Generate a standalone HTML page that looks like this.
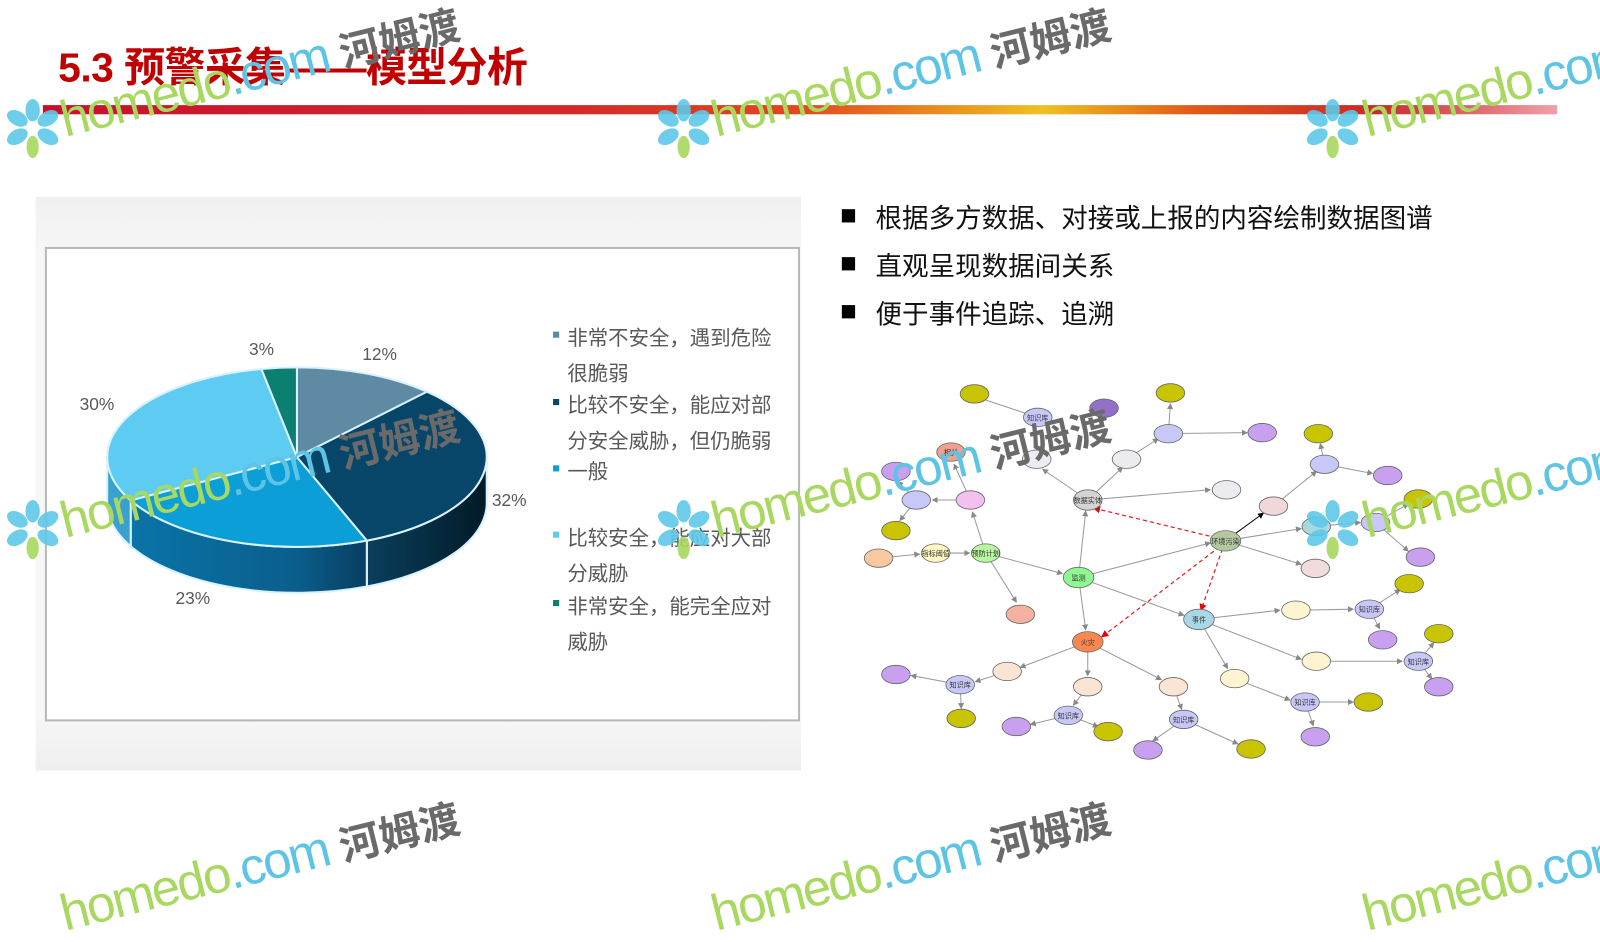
<!DOCTYPE html>
<html><head><meta charset="utf-8"><style>
html,body{margin:0;padding:0;background:#fff;overflow:hidden;width:1600px;height:900px}
#c{position:absolute;left:0;top:0;width:1568px;height:882px;transform:scale(1.0204);transform-origin:0 0;font-family:"Liberation Sans","Noto Sans CJK SC",sans-serif}
.abs{position:absolute}
.title{left:57px;top:34px;font-size:40px;font-weight:bold;color:#c00000;white-space:nowrap;letter-spacing:-0.5px}
.bar{left:42px;top:103px;width:1484px;height:9px;background:linear-gradient(90deg,#c8102e 0%,#d42a2a 35%,#e04820 50%,#f0c020 66%,#e05a18 76%,#c8282a 88%,#f0a0a8 100%)}
.leg{position:absolute;left:556px;font-size:20px;color:#595959;white-space:nowrap}
.sq{position:absolute;left:542px;width:6px;height:6px}
.bul{position:absolute;left:858px;font-size:26px;color:#111;white-space:nowrap}
.bsq{position:absolute;left:825px;width:13px;height:13px;background:#000}
.wm{position:absolute;font-size:50px;white-space:nowrap;transform:rotate(-14deg);transform-origin:0 100%;line-height:1;letter-spacing:-2px}
.wm .g{color:#a8d860}.wm .b{color:#5ec4e6}.wm .k{color:#6a6a6a;font-weight:bold;font-size:40px;letter-spacing:0}
</style></head><body><div id="c">
<div class="abs title">5.3 预警采集——模型分析</div>
<div class="abs bar"></div>

<div class="abs" style="left:35px;top:193px;width:750px;height:562px;background:linear-gradient(#f0f0f0,#f7f7f7 10%,#f7f7f7 90%,#eeeeee)"></div>
<div class="abs" style="left:44px;top:242px;width:736px;height:461px;background:#fff;border:2px solid #b8b8b8"></div>
<svg class="abs" style="left:0;top:0" width="800" height="800">
<defs>
<linearGradient id="gs1" x1="0" x2="1"><stop offset="0" stop-color="#0a3f5c"/><stop offset="1" stop-color="#021a28"/></linearGradient>
<linearGradient id="gs2" x1="0" x2="1"><stop offset="0" stop-color="#0a74a8"/><stop offset=".7" stop-color="#0a5e8c"/><stop offset="1" stop-color="#083e60"/></linearGradient>
</defs>
<g stroke="#d8f2ff" stroke-width="2">
<path d="M477,448 A186 88 0 0 1 359.5,529.8 L359.5,574.8 A186 88 0 0 0 477,493 Z" fill="url(#gs1)"/>
<path d="M359.5,529.8 A186 88 0 0 1 128.1,490.4 L128.1,535.4 A186 88 0 0 0 359.5,574.8 Z" fill="url(#gs2)"/>
<path d="M128.1,490.4 A186 88 0 0 1 105,448 L105,493 A186 88 0 0 0 128.1,535.4 Z" fill="#3aa0d0"/>
<path d="M291,448 L291,360 A186 88 0 0 1 418.4,383.9 Z" fill="#5e8aa4"/>
<path d="M291,448 L418.4,383.9 A186 88 0 0 1 359.5,529.8 Z" fill="#074668"/>
<path d="M291,448 L359.5,529.8 A186 88 0 0 1 128.1,490.4 Z" fill="#0c9ed6"/>
<path d="M291,448 L128.1,490.4 A186 88 0 0 1 256.2,361.6 Z" fill="#5ecbf2"/>
<path d="M291,448 L256.2,361.6 A186 88 0 0 1 291,360 Z" fill="#0a7f72"/>
</g>
<g font-size="17" fill="#595959" font-family="Liberation Sans,sans-serif">
<text x="244" y="348">3%</text><text x="355" y="353">12%</text><text x="78" y="402">30%</text>
<text x="482" y="496">32%</text><text x="172" y="592">23%</text></g>
</svg>
<div class="sq" style="top:325px;background:#5e8aa4"></div><div class="leg" style="top:315px">非常不安全，遇到危险</div>
<div class="leg" style="top:350px">很脆弱</div>
<div class="sq" style="top:391px;background:#074668"></div><div class="leg" style="top:381px">比较不安全，能应对部</div>
<div class="leg" style="top:416px">分安全威胁，但仍脆弱</div>
<div class="sq" style="top:456px;background:#0c9ed6"></div><div class="leg" style="top:446px">一般</div>
<div class="sq" style="top:521px;background:#5ecbf2"></div><div class="leg" style="top:511px">比较安全，能应对大部</div>
<div class="leg" style="top:546px">分威胁</div>
<div class="sq" style="top:588px;background:#0a7f72"></div><div class="leg" style="top:578px">非常安全，能完全应对</div>
<div class="leg" style="top:613px">威胁</div>

<div class="bsq" style="top:205px"></div><div class="bul" style="top:194px">根据多方数据、对接或上报的内容绘制数据图谱</div>
<div class="bsq" style="top:252px"></div><div class="bul" style="top:241px">直观呈现数据间关系</div>
<div class="bsq" style="top:299px"></div><div class="bul" style="top:288px">便于事件追踪、追溯</div>

<svg class="abs" style="left:0;top:0" width="1568" height="882">
<defs><marker id="ar" markerWidth="6" markerHeight="6" refX="5" refY="3" orient="auto"><path d="M0,0 L6,3 L0,6 Z" fill="#888"/></marker>
<marker id="ar2" markerWidth="6" markerHeight="6" refX="5" refY="3" orient="auto"><path d="M0,0 L6,3 L0,6 Z" fill="#e00"/></marker>
<marker id="ar3" markerWidth="6" markerHeight="6" refX="5" refY="3" orient="auto"><path d="M0,0 L6,3 L0,6 Z" fill="#000"/></marker></defs>
<g stroke="#9a9a9a" stroke-width="1" marker-end="url(#ar)">
<line x1="1017" y1="409" x2="960" y2="390"/><line x1="1145" y1="425" x2="1147" y2="396"/><line x1="1145" y1="425" x2="1222" y2="424"/>
<line x1="1066" y1="490" x2="1100" y2="458"/><line x1="1066" y1="490" x2="1022" y2="460"/><line x1="1066" y1="490" x2="1186" y2="480"/>
<line x1="1104" y1="450" x2="1135" y2="430"/>
<line x1="1298" y1="455" x2="1294" y2="435"/><line x1="1298" y1="455" x2="1345" y2="464"/><line x1="1248" y1="496" x2="1290" y2="462"/>
<line x1="1201" y1="530" x2="1275" y2="518"/><line x1="1201" y1="530" x2="1275" y2="553"/>
<line x1="1057" y1="566" x2="1186" y2="532"/><line x1="1057" y1="566" x2="1064" y2="501"/><line x1="1057" y1="566" x2="1064" y2="617"/><line x1="1057" y1="566" x2="1160" y2="603"/>
<line x1="966" y1="542" x2="1041" y2="562"/><line x1="917" y1="542" x2="950" y2="542"/><line x1="861" y1="547" x2="901" y2="543"/>
<line x1="966" y1="542" x2="953" y2="502"/><line x1="966" y1="542" x2="996" y2="590"/><line x1="951" y1="490" x2="914" y2="490"/>
<line x1="898" y1="490" x2="880" y2="472"/><line x1="898" y1="490" x2="882" y2="510"/><line x1="951" y1="490" x2="935" y2="455"/>
<line x1="1290" y1="516" x2="1333" y2="512"/><line x1="1348" y1="512" x2="1380" y2="494"/><line x1="1348" y1="512" x2="1380" y2="540"/>
<line x1="1175" y1="607" x2="1254" y2="598"/><line x1="1270" y1="598" x2="1326" y2="597"/><line x1="1342" y1="597" x2="1372" y2="578"/><line x1="1342" y1="597" x2="1352" y2="616"/>
<line x1="1175" y1="607" x2="1275" y2="646"/><line x1="1290" y1="648" x2="1374" y2="648"/><line x1="1390" y1="648" x2="1405" y2="630"/><line x1="1390" y1="648" x2="1403" y2="665"/>
<line x1="1175" y1="607" x2="1203" y2="655"/><line x1="1210" y1="665" x2="1264" y2="686"/><line x1="1279" y1="688" x2="1326" y2="688"/><line x1="1279" y1="688" x2="1287" y2="711"/>
<line x1="1066" y1="629" x2="1000" y2="654"/><line x1="987" y1="658" x2="956" y2="668"/><line x1="941" y1="671" x2="893" y2="662"/><line x1="941" y1="671" x2="942" y2="694"/>
<line x1="1066" y1="629" x2="1066" y2="662"/><line x1="1066" y1="673" x2="1052" y2="691"/><line x1="1047" y1="701" x2="1010" y2="710"/><line x1="1047" y1="701" x2="1076" y2="712"/>
<line x1="1066" y1="629" x2="1138" y2="666"/><line x1="1150" y1="673" x2="1158" y2="695"/><line x1="1160" y1="705" x2="1130" y2="726"/><line x1="1160" y1="705" x2="1213" y2="729"/>
</g>
<line x1="1201" y1="530" x2="1238" y2="503" stroke="#000" marker-end="url(#ar3)"/>
<g stroke="#e02020" stroke-width="1.2" stroke-dasharray="4,3" fill="none" marker-end="url(#ar2)">
<line x1="1192" y1="527" x2="1072" y2="498"/><line x1="1195" y1="536" x2="1080" y2="624"/><line x1="1198" y1="538" x2="1177" y2="598"/>
</g>
<g stroke="#666" stroke-width="0.8">
<ellipse cx="955" cy="386" rx="14" ry="9" fill="#c8c400"/><ellipse cx="1017" cy="409" rx="14" ry="9" fill="#c8c8f8"/><ellipse cx="1082" cy="400" rx="14" ry="9" fill="#9070c8"/>
<ellipse cx="1147" cy="385" rx="14" ry="9" fill="#c8c400"/><ellipse cx="1145" cy="425" rx="14" ry="9" fill="#c8c8f8"/><ellipse cx="1237" cy="424" rx="14" ry="9" fill="#c9a0f0"/>
<ellipse cx="1292" cy="425" rx="14" ry="9" fill="#c8c400"/><ellipse cx="1298" cy="455" rx="14" ry="9" fill="#c8c8f8"/><ellipse cx="1360" cy="466" rx="14" ry="9" fill="#c9a0f0"/>
<ellipse cx="932" cy="443" rx="14" ry="9" fill="#f0a090"/><ellipse cx="878" cy="462" rx="14" ry="9" fill="#c9a0f0"/><ellipse cx="1016" cy="450" rx="14" ry="9" fill="#ececf4"/>
<ellipse cx="1104" cy="450" rx="14" ry="9" fill="#ececf0"/><ellipse cx="898" cy="490" rx="14" ry="9" fill="#c8c8f8"/><ellipse cx="951" cy="490" rx="14" ry="9" fill="#f4c0f0"/>
<ellipse cx="878" cy="520" rx="14" ry="9" fill="#c8c400"/><ellipse cx="1066" cy="490" rx="14" ry="10" fill="#d4d4d4"/><ellipse cx="1202" cy="480" rx="14" ry="9" fill="#ececf0"/>
<ellipse cx="1248" cy="496" rx="14" ry="9" fill="#f0d8d8"/><ellipse cx="1390" cy="489" rx="14" ry="9" fill="#c8c400"/><ellipse cx="1290" cy="516" rx="14" ry="9" fill="#a8d8e0"/>
<ellipse cx="1348" cy="512" rx="14" ry="9" fill="#c8c8f8"/><ellipse cx="1201" cy="530" rx="15" ry="10" fill="#b4c8a0"/><ellipse cx="1392" cy="546" rx="14" ry="9" fill="#c9a0f0"/>
<ellipse cx="861" cy="547" rx="14" ry="9" fill="#f8c8a0"/><ellipse cx="917" cy="542" rx="14" ry="9" fill="#fff8c0"/><ellipse cx="966" cy="542" rx="14" ry="9" fill="#b8f8a0"/>
<ellipse cx="1289" cy="557" rx="14" ry="9" fill="#f0dcdc"/><ellipse cx="1057" cy="566" rx="15" ry="10" fill="#90f890"/><ellipse cx="1381" cy="572" rx="14" ry="9" fill="#c8c400"/>
<ellipse cx="1000" cy="602" rx="14" ry="9" fill="#f4b0a0"/><ellipse cx="1270" cy="598" rx="14" ry="9" fill="#fff4d0"/><ellipse cx="1342" cy="597" rx="14" ry="9" fill="#c8c8f8"/>
<ellipse cx="1175" cy="607" rx="15" ry="10" fill="#a8d8e8"/><ellipse cx="1066" cy="629" rx="15" ry="10" fill="#f88850"/><ellipse cx="1410" cy="621" rx="14" ry="9" fill="#c8c400"/>
<ellipse cx="1355" cy="627" rx="14" ry="9" fill="#c9a0f0"/><ellipse cx="987" cy="658" rx="14" ry="9" fill="#fae4d4"/><ellipse cx="1290" cy="648" rx="14" ry="9" fill="#fff4d0"/>
<ellipse cx="1390" cy="648" rx="14" ry="9" fill="#c8c8f8"/><ellipse cx="878" cy="661" rx="14" ry="9" fill="#c9a0f0"/><ellipse cx="941" cy="671" rx="14" ry="9" fill="#c8c8f8"/>
<ellipse cx="1066" cy="673" rx="14" ry="9" fill="#fae4d4"/><ellipse cx="1150" cy="673" rx="14" ry="9" fill="#fae4d4"/><ellipse cx="1210" cy="665" rx="14" ry="9" fill="#fff4d0"/>
<ellipse cx="1410" cy="673" rx="14" ry="9" fill="#c9a0f0"/><ellipse cx="942" cy="704" rx="14" ry="9" fill="#c8c400"/><ellipse cx="1047" cy="701" rx="14" ry="9" fill="#c8c8f8"/>
<ellipse cx="1279" cy="688" rx="14" ry="9" fill="#c8c8f8"/><ellipse cx="1341" cy="688" rx="14" ry="9" fill="#c8c400"/><ellipse cx="996" cy="712" rx="14" ry="9" fill="#c9a0f0"/>
<ellipse cx="1086" cy="717" rx="14" ry="9" fill="#c8c400"/><ellipse cx="1160" cy="705" rx="14" ry="9" fill="#c8c8f8"/><ellipse cx="1289" cy="722" rx="14" ry="9" fill="#c9a0f0"/>
<ellipse cx="1125" cy="735" rx="14" ry="9" fill="#c9a0f0"/><ellipse cx="1226" cy="734" rx="14" ry="9" fill="#c8c400"/>
</g>
<g font-size="7" fill="#333" text-anchor="middle" font-family="Liberation Sans,Noto Sans CJK SC,sans-serif">
<text x="1066" y="493">数据实体</text><text x="1201" y="533">环境污染</text><text x="1066" y="632">火灾</text><text x="1175" y="610">事件</text><text x="1057" y="569">监测</text>
<text x="966" y="545">预防计划</text><text x="917" y="545">指标阈值</text><text x="932" y="446">相关</text><text x="1017" y="412">知识库</text><text x="1342" y="600">知识库</text>
<text x="1390" y="651">知识库</text><text x="1047" y="704">知识库</text><text x="1160" y="708">知识库</text><text x="1279" y="691">知识库</text><text x="941" y="674">知识库</text>
</g>
</svg>

<svg class="abs" style="left:0;top:0" width="1568" height="882">
<defs>
<g id="fl" fill="#5ec8e8" opacity="0.9">
<ellipse cx="0" cy="-17" rx="7" ry="11"/><ellipse cx="15" cy="-9" rx="7" ry="11" transform="rotate(60 15 -9)"/><ellipse cx="15" cy="9" rx="7" ry="11" transform="rotate(120 15 9)"/>
<ellipse cx="-15" cy="-9" rx="7" ry="11" transform="rotate(-60 -15 -9)"/><ellipse cx="-15" cy="9" rx="7" ry="11" transform="rotate(60 -15 9)"/><ellipse cx="0" cy="19" rx="6" ry="11" fill="#a8d860"/>
</g></defs>
<use href="#fl" x="32" y="125"/><use href="#fl" x="670" y="125"/><use href="#fl" x="1306" y="125"/>
<use href="#fl" x="32" y="518"/><use href="#fl" x="670" y="518"/><use href="#fl" x="1306" y="518"/>
</svg>
<div class="wm" style="left:66px;top:92px"><span class="g">homedo</span><span class="b">.com </span><span class="k">河姆渡</span></div>
<div class="wm" style="left:704px;top:92px"><span class="g">homedo</span><span class="b">.com </span><span class="k">河姆渡</span></div>
<div class="wm" style="left:1342px;top:92px"><span class="g">homedo</span><span class="b">.com</span></div>
<div class="wm" style="left:66px;top:485px"><span class="g">homedo</span><span class="b">.com </span><span class="k">河姆渡</span></div>
<div class="wm" style="left:704px;top:485px"><span class="g">homedo</span><span class="b">.com </span><span class="k">河姆渡</span></div>
<div class="wm" style="left:1342px;top:485px"><span class="g">homedo</span><span class="b">.com</span></div>
<div class="wm" style="left:66px;top:870px"><span class="g">homedo</span><span class="b">.com </span><span class="k">河姆渡</span></div>
<div class="wm" style="left:704px;top:870px"><span class="g">homedo</span><span class="b">.com </span><span class="k">河姆渡</span></div>
<div class="wm" style="left:1342px;top:870px"><span class="g">homedo</span><span class="b">.com</span></div>
</div></body></html>
